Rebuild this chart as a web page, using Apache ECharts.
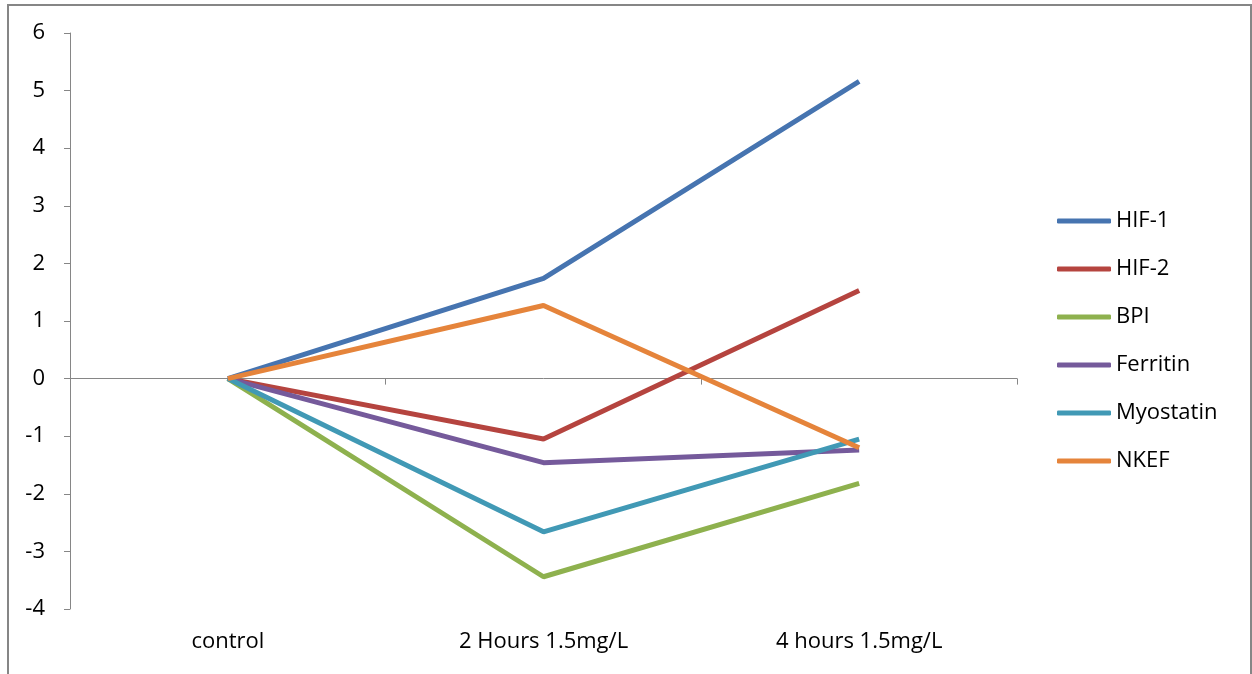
<!DOCTYPE html>
<html>
<head>
<meta charset="utf-8">
<style>html,body{margin:0;padding:0;background:#fff;}#c{width:1252px;height:674px;}</style>
<script src="https://cdn.jsdelivr.net/npm/echarts@6/dist/echarts.min.js"></script>
</head>
<body>
<div id="c"></div>
<script>
const categories = ['control', '2 Hours 1.5mg/L', '4 hours 1.5mg/L'];
const seriesNames = ['HIF-1', 'HIF-2', 'BPI', 'Ferritin', 'Myostatin', 'NKEF'];
const hif1 = [0, 1.74, 5.16];
const hif2 = [0, -1.05, 1.53];
const bpi = [0, -3.44, -1.82];
const ferritin = [0, -1.46, -1.24];
const myostatin = [0, -2.66, -1.05];
const nkef = [0, 1.27, -1.2];
const colors = ['#4674B0', '#B5443F', '#8EB14E', '#755A9B', '#4199B5', '#E5843B'];

const values = [hif1, hif2, bpi, ferritin, myostatin, nkef];
const font = '"Open Sans", sans-serif';
const chart = echarts.init(document.getElementById('c'));
chart.setOption({
  animation: false,
  backgroundColor: '#fff',
  color: colors,
  graphic: [{
    type: 'rect', silent: true,
    shape: { x: 8, y: 5, width: 1243, height: 720 },
    style: { fill: 'none', stroke: '#868686', lineWidth: 2 }
  }],
  grid: { left: 70, right: 235, top: 33, bottom: 65 },
  legend: {
    orient: 'vertical', left: 1057, top: 207, padding: 0,
    itemWidth: 54, itemHeight: 5, itemGap: 20, icon: 'roundRect',
    textStyle: { fontFamily: font, fontSize: 22, color: '#000', lineHeight: 28 },
    data: seriesNames
  },
  xAxis: [{
    type: 'category', data: categories, boundaryGap: true,
    axisLine: { onZero: true, lineStyle: { color: '#868686', width: 1 } },
    axisTick: { show: true, length: 6, lineStyle: { color: '#868686' } },
    axisLabel: { show: false }, splitLine: { show: false }
  }, {
    type: 'category', data: categories, boundaryGap: true, position: 'bottom',
    axisLine: { show: false, onZero: false }, axisTick: { show: false },
    axisLabel: { margin: 22, fontFamily: font, fontSize: 22, color: '#000' },
    splitLine: { show: false }
  }],
  yAxis: {
    type: 'value', min: -4, max: 6, interval: 1,
    axisLine: { show: true, lineStyle: { color: '#868686', width: 1 } },
    axisTick: { show: true, length: 6, lineStyle: { color: '#868686' } },
    axisLabel: { margin: 25, fontFamily: font, fontSize: 22, color: '#000' },
    splitLine: { show: false }
  },
  series: seriesNames.map((n, i) => ({
    name: n, type: 'line', xAxisIndex: 0, data: values[i],
    symbol: 'none', lineStyle: { width: 5, color: colors[i] },
    itemStyle: { color: colors[i] }
  }))
});
</script>
</body>
</html>
